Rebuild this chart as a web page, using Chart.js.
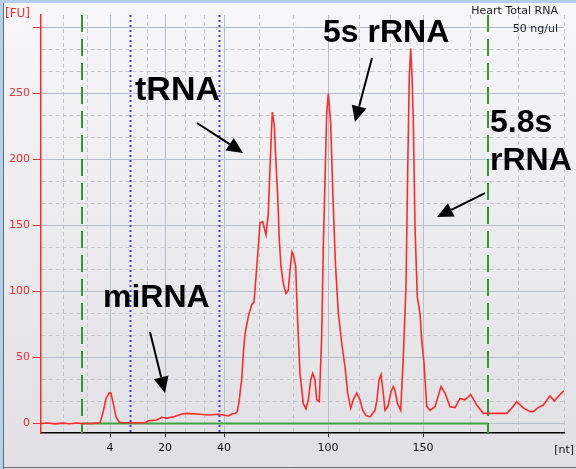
<!DOCTYPE html>
<html><head><meta charset="utf-8">
<script src="https://cdn.jsdelivr.net/npm/chart.js@4/dist/chart.umd.min.js"></script>
<style>html,body{margin:0;padding:0;background:#e6e6ea;overflow:hidden}canvas{display:block}</style>
</head><body>
<canvas id="c" width="576" height="469"></canvas>
<script>
// migration time (s) and fluorescence (FU)
const timeSec = [0.0,1.4,2.8,4.2,5.8,7.0,8.2,10.2,11.8,12.46,13.0,13.66,14.0,14.46,15.0,15.66,16.46,20.8,21.46,23.14,24.14,25.14,26.46,28.14,29.14,31.8,33.46,35.46,36.46,37.46,38.14,38.8,39.26,39.66,39.94,40.14,40.46,40.8,41.46,42.14,42.6,43.0,43.34,43.8,44.34,45.0,45.46,45.8,46.26,46.66,46.94,47.34,47.66,48.0,48.46,49.0,49.46,49.8,50.2,50.46,50.94,51.26,51.8,52.46,53.0,53.46,53.94,54.34,54.8,55.14,55.66,56.14,56.46,56.8,57.14,57.46,57.94,58.34,58.6,58.9,59.46,60.14,60.8,61.34,61.94,62.46,63.14,63.8,64.34,65.0,65.8,66.8,67.2,67.6,68.0,68.4,68.8,69.4,70.0,70.46,70.8,71.3,71.94,72.46,73.0,73.34,73.66,73.94,74.2,74.46,74.8,75.26,75.8,76.14,76.6,77.14,77.8,78.8,80.0,80.8,81.8,82.8,83.8,84.8,85.94,87.14,88.46,89.4,93.14,94.0,95.14,96.4,97.8,98.46,99.4,100.46,101.8,102.66,103.6,104.6];
const fluorescence = [0,0.4,-0.3,0.3,-0.2,0.4,0,0,0.5,9,19,23.3,22.8,15,5,1,0.6,0.6,2,2.7,4.7,4,5,7.2,7.7,7,6.4,7,6.4,5.7,7.2,7.7,9,17.8,27.8,33,53,68,81,90,92,111,128,152,153,143,159,194,236,226,202,172,139,119,106,98.6,101,116,130,128,119,83.5,38,15,11,18,33,38,33,18,16.5,66,134,184,235,250,227,177,150,120,84,61,43,23,11.5,18,23,18,10,6,5,10,18,33,37,25,10,13,24,28,25,15,10,50,104,192,263,284,263,230,149,96,83,63,46,13,10,12.7,28,23,12.7,12,19,18,22,14,7.7,7.7,7.7,11,16.5,12,9,9,12,14,21,17,21,25];

const xTickValues = [4.4,9.2,13.8,21.2,24.8,28.8,32.6,36.6,43.6,50.4,57.4,63.6,69.8,76.4,85.8,95.4,104.6];
const xTickLabels = ['','','4','','20','','','40','','','100','','','150','','',''];
const yTickValues = [];
for (let i = 0; i <= 18; i++) yTickValues.push(i * 50 / 3);
const yTickLabels = yTickValues.map((v, i) => (i % 3 === 0 && v < 275) ? String(Math.round(v)) : '');

const ladderMarkers = [8.2, 89.4];   // green dashed (lower / upper marker)
const regionMarkers = [17.8, 35.6];  // blue dotted (small RNA region)

const annotationTexts = [
  {text:'tRNA', x:18.8, y:245, size:34},
  {text:'5s rRNA', x:56.4, y:289, size:32},
  {text:'5.8s', x:89.8, y:220.8, size:32},
  {text:'rRNA', x:89.8, y:192, size:32},
  {text:'miRNA', x:12.4, y:88.3, size:32}
];
const annotationArrows = [
  {from:[31.2,227.7], to:[40.4,205]},
  {from:[66.2,276.9], to:[62.8,228.4]},
  {from:[88.8,174.6], to:[79.2,156.4]},
  {from:[21.8,69.3], to:[24.8,23.2]}
];

const RED = '#ff2a2a';
const SOLID = '#b6becc';
const DASH = '#c6c6ca';

const bgPlugin = {
  id:'bg',
  beforeDraw(chart){
    const ctx = chart.ctx, W = chart.width, H = chart.height;
    ctx.save();
    const g = ctx.createLinearGradient(0,0,0,H);
    g.addColorStop(0,'#f7f7f9');
    g.addColorStop(1,'#e0e0e4');
    ctx.fillStyle = g;
    ctx.fillRect(0,0,W,H);
    ctx.fillStyle = '#b3cfee';
    ctx.fillRect(0,0,W,3);
    ctx.fillRect(0,0,3,H);
    ctx.strokeStyle = '#6c6c70';
    ctx.lineWidth = 1;
    ctx.beginPath();
    ctx.moveTo(3.5,3); ctx.lineTo(3.5,H);
    ctx.moveTo(3,H-1.5); ctx.lineTo(W,H-1.5);
    ctx.stroke();
    ctx.restore();
  }
};

const markerPlugin = {
  id:'markers',
  beforeDatasetsDraw(chart){
    const {ctx, chartArea:a, scales:{x,y}} = chart;
    ctx.save();
    ctx.strokeStyle = '#3b3bff'; ctx.lineWidth = 2; ctx.setLineDash([2,3]);
    regionMarkers.forEach(v => {
      const px = Math.round(x.getPixelForValue(v)) + 0.5;
      ctx.beginPath(); ctx.moveTo(px,a.top); ctx.lineTo(px,a.bottom); ctx.stroke();
    });
    ctx.strokeStyle = '#2e9a2e'; ctx.lineWidth = 2; ctx.setLineDash([17,7]);
    ladderMarkers.forEach(v => {
      const px = Math.round(x.getPixelForValue(v));
      ctx.beginPath(); ctx.moveTo(px,a.top); ctx.lineTo(px,a.bottom); ctx.stroke();
    });
    ctx.setLineDash([]);
    ctx.strokeStyle = '#3fa63f';
    const y0 = y.getPixelForValue(0);
    ctx.beginPath();
    ctx.moveTo(x.getPixelForValue(ladderMarkers[0]), y0);
    ctx.lineTo(x.getPixelForValue(ladderMarkers[1]), y0);
    ctx.stroke();
    ctx.restore();
  }
};

function arrow(ctx, x1, y1, x2, y2){
  const ang = Math.atan2(y2-y1, x2-x1);
  const hl = 16, hw = 7.5;
  const bx = x2 - hl*Math.cos(ang), by = y2 - hl*Math.sin(ang);
  ctx.beginPath(); ctx.moveTo(x1,y1); ctx.lineTo(bx,by); ctx.stroke();
  ctx.beginPath();
  ctx.moveTo(x2,y2);
  ctx.lineTo(bx + hw*Math.sin(ang), by - hw*Math.cos(ang));
  ctx.lineTo(bx - hw*Math.sin(ang), by + hw*Math.cos(ang));
  ctx.closePath(); ctx.fill();
}

const annotPlugin = {
  id:'annot',
  afterDraw(chart){
    const {ctx, scales:{x,y}} = chart;
    ctx.save();
    ctx.fillStyle = '#000'; ctx.strokeStyle = '#000'; ctx.lineWidth = 2;
    ctx.textAlign = 'left'; ctx.textBaseline = 'alphabetic';
    annotationTexts.forEach(t => {
      ctx.font = 'bold ' + t.size + 'px "Liberation Sans", Arial, sans-serif';
      ctx.fillText(t.text, x.getPixelForValue(t.x), y.getPixelForValue(t.y));
    });
    annotationArrows.forEach(r => arrow(ctx,
      x.getPixelForValue(r.from[0]), y.getPixelForValue(r.from[1]),
      x.getPixelForValue(r.to[0]), y.getPixelForValue(r.to[1])));
    ctx.font = '12px "DejaVu Sans", sans-serif';
    ctx.textBaseline = 'middle';
    ctx.fillStyle = RED; ctx.textAlign = 'left';
    ctx.fillText('[FU]', 5, 14);
    ctx.font = '11px "DejaVu Sans", sans-serif';
    ctx.fillStyle = '#111'; ctx.textAlign = 'right';
    ctx.fillText('[nt]', 574, 450);
    ctx.fillStyle = '#222';
    ctx.fillText('Heart Total RNA', 558, 11);
    ctx.fillText('50 ng/ul', 558, 29);
    ctx.restore();
  }
};

const xLabeled = c => c && c.type === 'tick' && xTickLabels[c.index] !== '';
const yMajor = c => c && c.type === 'tick' && c.index % 3 === 0;

new Chart(document.getElementById('c'), {
  type:'line',
  data:{ datasets:[{
    data: timeSec.map((t,i) => ({x:t, y:fluorescence[i]})),
    borderColor: RED, borderWidth: 1.6, pointRadius: 0, tension: 0, fill: false
  }]},
  options:{
    responsive:false, animation:false, devicePixelRatio:1,
    layout:{ padding:{left:0, top:15, right:12, bottom:0} },
    plugins:{ legend:{display:false}, tooltip:{enabled:false} },
    scales:{
      x:{
        type:'linear', min:0, max:104.6,
        afterBuildTicks: s => { s.ticks = xTickValues.map(v => ({value:v})); },
        afterFit: s => { s.height = 36; },
        ticks:{ autoSkip:false, maxRotation:0, minRotation:0, color:'#111', padding:5,
          font:{family:'"DejaVu Sans", sans-serif', size:11},
          callback:(v,i) => xTickLabels[i] },
        grid:{ color: c => xLabeled(c) ? SOLID : DASH, lineWidth:1, tickLength:4,
          tickColor: c => xLabeled(c) ? '#000' : 'rgba(0,0,0,0)' },
        border:{ color:'#000', width:1.5, dash: c => (c && c.type === 'tick' && !xLabeled(c)) ? [4,3] : [] }
      },
      y:{
        type:'linear', min:-7.2, max:309.5,
        afterBuildTicks: s => { s.ticks = yTickValues.map(v => ({value:v})); },
        afterFit: s => { s.width = 41; },
        ticks:{ autoSkip:false, color:RED, padding:3,
          font:{family:'"DejaVu Sans", sans-serif', size:11},
          callback:(v,i) => yTickLabels[i] },
        grid:{ color: c => yMajor(c) ? SOLID : DASH, lineWidth:1, tickLength:8,
          tickColor: c => yMajor(c) ? RED : 'rgba(0,0,0,0)' },
        border:{ color:RED, width:1.5, dash: c => (c && c.type === 'tick' && !yMajor(c)) ? [4,3] : [] }
      }
    }
  },
  plugins:[bgPlugin, markerPlugin, annotPlugin]
});
</script>
</body></html>
